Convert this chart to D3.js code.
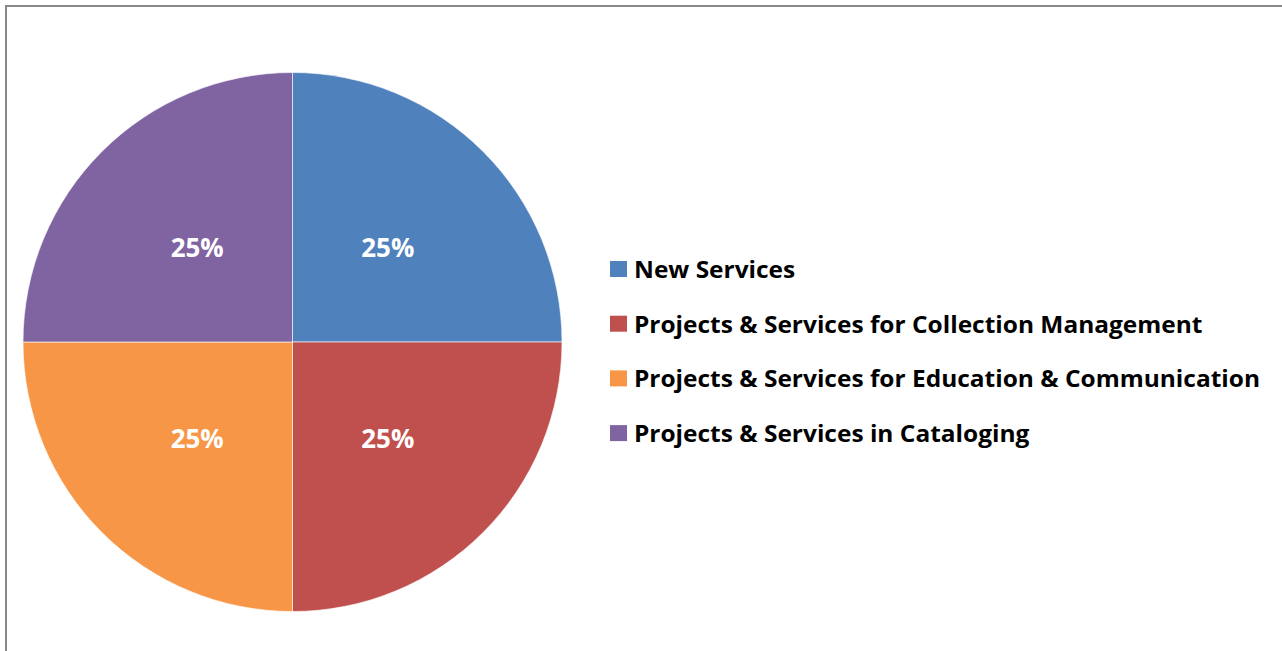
<!DOCTYPE html>
<html>
<head>
<meta charset="utf-8">
<script src="https://cdn.jsdelivr.net/npm/d3@7"></script>
<style>
  html, body { margin: 0; padding: 0; background: #ffffff; }
  svg { display: block; }
</style>
</head>
<body>
<svg id="chart" width="1282" height="651"></svg>
<script>
const categories = [
  "New Services",
  "Projects & Services for Collection Management",
  "Projects & Services for Education & Communication",
  "Projects & Services in Cataloging"
];
const values = [25, 25, 25, 25];
const colors = ["#4F81BD", "#C0504D", "#F79646", "#8064A2"];

const svg = d3.select("#chart");
const W = 1282, H = 651;

// chart area border
svg.append("rect")
  .attr("x", 6).attr("y", 6)
  .attr("width", W + 10).attr("height", H + 10)
  .attr("fill", "#ffffff")
  .attr("stroke", "#898989")
  .attr("stroke-width", 2);

const cx = 292.5, cy = 342, r = 269.5;
const data = categories.map((c, i) => ({ name: c, value: values[i], color: colors[i] }));
const total = d3.sum(values);

const pie = d3.pie().sort(null).value(d => d.value);
const arcs = pie(data);
const arc = d3.arc().innerRadius(0).outerRadius(r);
const labelArc = d3.arc().innerRadius(r * 0.5).outerRadius(r * 0.5);

const g = svg.append("g").attr("transform", `translate(${cx},${cy})`);
g.selectAll("path.slice")
  .data(arcs)
  .join("path")
  .attr("class", "slice")
  .attr("d", arc)
  .attr("fill", d => d.data.color)
  .attr("stroke", "#ffffff")
  .attr("stroke-opacity", 0.6)
  .attr("stroke-width", 1);

const fmt = d3.format(".0%");
g.selectAll("text.pct")
  .data(arcs)
  .join("text")
  .attr("class", "pct")
  .attr("transform", d => { const c = labelArc.centroid(d); return `translate(${c[0]},${c[1] + 1.5})`; })
  .attr("text-anchor", "middle")
  .attr("dy", "0.35em")
  .attr("fill", "#ffffff")
  .attr("font-family", "'Open Sans', 'Liberation Sans', sans-serif")
  .attr("font-weight", "bold")
  .attr("font-size", 26)
  .attr("textLength", 53)
  .attr("lengthAdjust", "spacingAndGlyphs")
  .text(d => fmt(d.data.value / total));

// legend
const legendX = 610, legendY0 = 269, legendStep = 54.7;
const lg = svg.append("g");
const items = lg.selectAll("g.item")
  .data(data)
  .join("g")
  .attr("class", "item")
  .attr("transform", (d, i) => `translate(${legendX},${legendY0 + i * legendStep})`);

items.append("rect")
  .attr("x", 0).attr("y", -8)
  .attr("width", 17).attr("height", 16)
  .attr("fill", d => d.color);

const texts = items.append("text")
  .attr("x", 24)
  .attr("y", 9)
  .attr("fill", "#000000")
  .attr("font-family", "'Open Sans', 'Liberation Sans', sans-serif")
  .attr("font-weight", "bold")
  .attr("font-size", 23)
  .text(d => d.name);

// compress uniformly so the longest label matches the reference width
let maxW = 0;
texts.each(function () { maxW = Math.max(maxW, this.getComputedTextLength()); });
const k = 626 / maxW;
texts.each(function () {
  const w = this.getComputedTextLength();
  d3.select(this).attr("textLength", w * k).attr("lengthAdjust", "spacingAndGlyphs");
});
</script>
</body>
</html>
